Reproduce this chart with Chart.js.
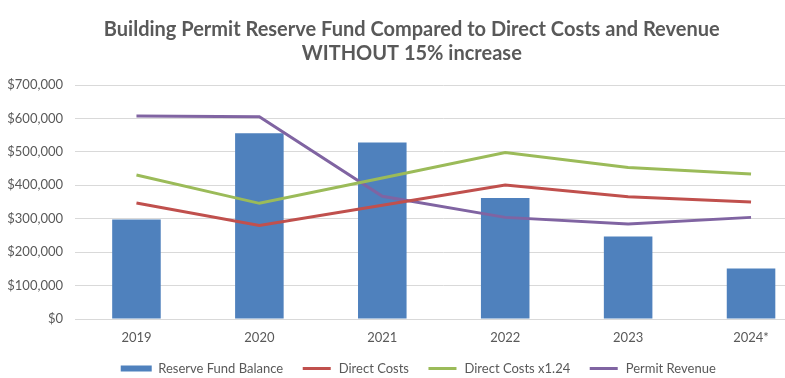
<!DOCTYPE html>
<html>
<head>
<meta charset="utf-8">
<script src="https://cdn.jsdelivr.net/npm/chart.js@4.4.1/dist/chart.umd.min.js"></script>
<style>
  html, body { margin:0; padding:0; background:#fff; overflow:hidden; }
  #wrap { width:820px; height:378px; }
</style>
</head>
<body>
<div id="wrap"><canvas id="c"></canvas></div>
<script>
// values
const years = ['2019', '2020', '2021', '2022', '2023', '2024*'];
const reserveFund = [298000, 556000, 528000, 362000, 247000, 151000];
const directCosts = [347000, 280000, 340000, 401000, 366000, 350000];
const directCostsX124 = [431000, 346000, 422000, 498000, 453000, 434000];
const permitRevenue = [607000, 605000, 367000, 304000, 284000, 304000];

const txt = '#595959';
const fontFam = 'Lato, "Open Sans", sans-serif';

const money = v => '$' + v.toLocaleString('en-US');

// the original is cut on the right, so nudge title and legend to sit where they did
const shiftBlocks = {
  id: 'shiftBlocks',
  afterLayout(chart) {
    chart.titleBlock.left += 11;
    chart.legend.left += 24;
  }
};

const ctx = document.getElementById('c').getContext('2d');
const chart = new Chart(ctx, {
  data: {
    labels: years,
    datasets: [
      {type:'bar', label:'Reserve Fund Balance', data: reserveFund, backgroundColor:'#4f81bd',
       categoryPercentage:1, barPercentage:0.395, order:1},
      {type:'line', label:'Direct Costs', data: directCosts, borderColor:'#c0504d', backgroundColor:'#c0504d',
       borderWidth:3, pointRadius:0, tension:0, order:0},
      {type:'line', label:'Direct Costs x1.24', data: directCostsX124, borderColor:'#9bbb59', backgroundColor:'#9bbb59',
       borderWidth:3, pointRadius:0, tension:0, order:0},
      {type:'line', label:'Permit Revenue', data: permitRevenue, borderColor:'#8064a2', backgroundColor:'#8064a2',
       borderWidth:3, pointRadius:0, tension:0, order:0}
    ]
  },
  plugins: [shiftBlocks],
  options: {
    responsive:true,
    maintainAspectRatio:false,
    animation:false,
    layout:{padding:{left:0, right:7.5, top:8, bottom:-7}},
    plugins:{
      tooltip:{enabled:false},
      title:{
        display:true,
        text:['Building Permit Reserve Fund Compared to Direct Costs and Revenue', 'WITHOUT 15% increase'],
        color:txt,
        font:{family:fontFam, size:20, weight:'bold', lineHeight:1.2},
        padding:{top:10, bottom:19}
      },
      legend:{
        position:'bottom',
        labels:{
          color:txt,
          font:{family:fontFam, size:13},
          boxWidth:31,
          boxHeight:6,
          padding:18,
          generateLabels: function(chart) {
            // keep dataset order; lines get a thin swatch
            return chart.data.datasets.map((ds, i) => ({
              text: ds.label,
              fillStyle: ds.type === 'bar' ? ds.backgroundColor : ds.borderColor,
              strokeStyle: '#fff',
              lineWidth: ds.type === 'bar' ? 0 : 3,
              fontColor: txt,
              hidden: !chart.isDatasetVisible(i),
              datasetIndex: i
            }));
          }
        }
      }
    },
    scales:{
      x:{
        grid:{display:false, drawTicks:false},
        border:{display:true, color:'#d9d9d9'},
        ticks:{color:txt, font:{family:fontFam, size:13}, padding:11},
        afterFit: s => { s.height = 25; }
      },
      y:{
        min:0, max:700000,
        ticks:{stepSize:100000, color:txt, font:{family:fontFam, size:13}, padding:12, callback: v => money(v)},
        grid:{color:'#d9d9d9', drawTicks:false},
        border:{display:false},
        afterFit: s => { s.width = 75; }
      }
    }
  }
});
</script>
</body>
</html>
